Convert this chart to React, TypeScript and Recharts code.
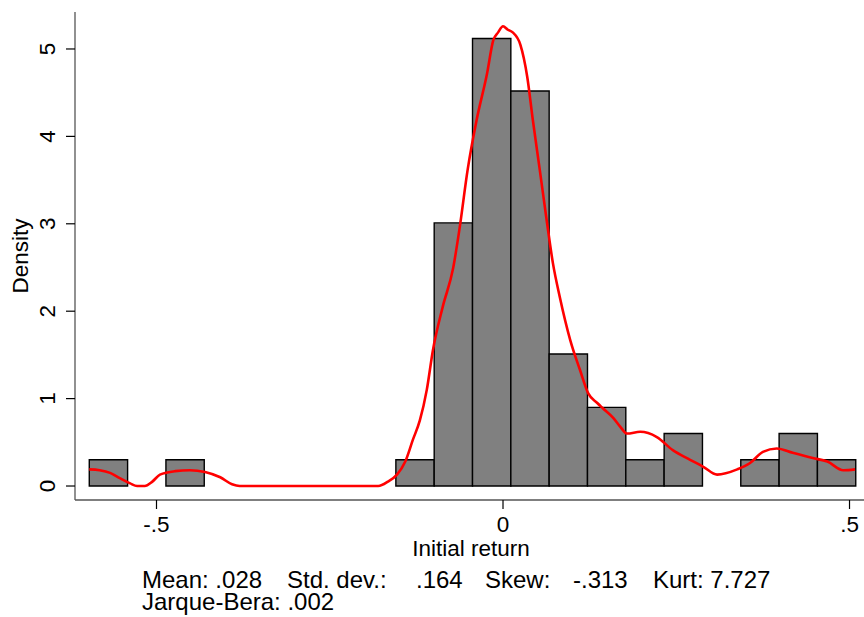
import React from 'react';
import { ComposedChart, XAxis, YAxis, Line, ReferenceArea } from 'recharts';

// Histogram (density) bins
const binStart = -0.597;
const binWidth = 0.0553;
const binDensity = [0.30, 0, 0.30, 0, 0, 0, 0, 0, 0.30, 3.01, 5.12, 4.52, 1.51, 0.90, 0.30, 0.60, 0, 0.30, 0.60, 0.30];

// Kernel density estimate
const kdeX = [
  -0.597, -0.582, -0.567, -0.553, -0.538, -0.528, -0.517, -0.506, -0.495, -0.473, -0.452, -0.430, -0.408, -0.391, -0.380,
  -0.280, -0.180, -0.166, -0.153, -0.141, -0.130, -0.120, -0.110, -0.101, -0.087, -0.072, -0.063, -0.051, -0.038, -0.023,
  -0.014, -0.007, 0.000, 0.007, 0.014, 0.025, 0.035, 0.043, 0.053, 0.063, 0.072, 0.082, 0.097, 0.111, 0.123, 0.136,
  0.144, 0.159, 0.169, 0.179, 0.198, 0.222, 0.245, 0.270, 0.289, 0.309, 0.338, 0.356, 0.375, 0.395, 0.418, 0.447,
  0.468, 0.491, 0.508,
];
const kdeY = [
  0.19, 0.18, 0.15, 0.09, 0.03, 0.0, 0.0, 0.05, 0.13, 0.17, 0.18, 0.16, 0.10, 0.02, 0.0,
  0.0, 0.0, 0.05, 0.13, 0.28, 0.53, 0.75, 1.10, 1.56, 2.05, 2.49, 2.93, 3.62, 4.19, 4.72,
  5.10, 5.19, 5.26, 5.22, 5.19, 5.05, 4.68, 4.19, 3.62, 3.04, 2.55, 2.16, 1.67, 1.33, 1.06, 0.95,
  0.89, 0.78, 0.68, 0.60, 0.62, 0.56, 0.41, 0.30, 0.22, 0.13, 0.19, 0.26, 0.39, 0.43, 0.38, 0.32,
  0.28, 0.18, 0.19,
];

const xTicks = [-0.5, 0, 0.5];
const xTickLabels = ['-.5', '0', '.5'];
const yTicks = [0, 1, 2, 3, 4, 5];

const xTitle = 'Initial return';
const yTitle = 'Density';
const statsSegments = ['Mean: .028', 'Std. dev.:', '.164', 'Skew:', '-.313', 'Kurt: 7.727'];
const statsSegmentX = [142, 287, 416, 485, 573, 653];
const statsLine2 = 'Jarque-Bera: .002';

const kdeData = kdeX.map((x, i) => ({ x, y: kdeY[i] }));

const FONT = '"Liberation Sans", Arial, Helvetica, sans-serif';
const FS = 22.5;
const NOTE_FS = 24;

const XTick = (props: any) => {
  const { x, y, payload } = props;
  const idx = xTicks.indexOf(payload.value);
  return (
    <text x={x} y={y} dy={21} textAnchor="middle" fontFamily={FONT} fontSize={FS} fill="#000">
      {idx >= 0 ? xTickLabels[idx] : String(payload.value)}
    </text>
  );
};

const YTick = (props: any) => {
  const { x, y, payload } = props;
  const bx = x - 9;
  return (
    <text
      x={bx}
      y={y}
      transform={`rotate(-90, ${bx}, ${y})`}
      textAnchor="middle"
      fontFamily={FONT}
      fontSize={FS}
      fill="#000"
    >
      {String(payload.value)}
    </text>
  );
};

export default function App() {
  return (
    <div style={{ position: 'absolute', left: 0, top: 0, width: 864, height: 617, background: '#fff' }}>
      <ComposedChart
        width={864}
        height={617}
        data={kdeData}
        margin={{ top: 12, right: 0, bottom: 0, left: 0 }}
      >
        <XAxis
          type="number"
          dataKey="x"
          domain={[-0.6176, 0.5209]}
          allowDataOverflow
          ticks={xTicks}
          tick={<XTick />}
          tickSize={9}
          height={117}
          axisLine={{ stroke: '#555', strokeWidth: 1.3 }}
          tickLine={{ stroke: '#000', strokeWidth: 1.2 }}
          interval={0}
        />
        <YAxis
          type="number"
          domain={[-0.16, 5.423]}
          allowDataOverflow
          ticks={yTicks}
          tick={<YTick />}
          tickSize={9}
          width={75}
          axisLine={{ stroke: '#555', strokeWidth: 1.3 }}
          tickLine={{ stroke: '#000', strokeWidth: 1.2 }}
          interval={0}
        />
        {binDensity.map((d, i) =>
          d > 0 ? (
            <ReferenceArea
              key={i}
              x1={binStart + i * binWidth}
              x2={binStart + (i + 1) * binWidth}
              y1={0}
              y2={d}
              fill="#808080"
              fillOpacity={1}
              stroke="#000"
              strokeWidth={1.4}
              ifOverflow="visible"
            />
          ) : null
        )}
        <Line
          type="monotone"
          dataKey="y"
          stroke="#ff0000"
          strokeWidth={2.6}
          dot={false}
          activeDot={false}
          isAnimationActive={false}
        />
        <text x={471} y={556} textAnchor="middle" fontFamily={FONT} fontSize={FS} fill="#000">
          {xTitle}
        </text>
        <text
          x={28}
          y={256}
          transform="rotate(-90, 28, 256)"
          textAnchor="middle"
          fontFamily={FONT}
          fontSize={FS}
          fill="#000"
        >
          {yTitle}
        </text>
        {statsSegments.map((s, i) => (
          <text key={i} x={statsSegmentX[i]} y={588} fontFamily={FONT} fontSize={NOTE_FS} fill="#000">
            {s}
          </text>
        ))}
        <text x={142} y={610} fontFamily={FONT} fontSize={NOTE_FS} fill="#000">
          {statsLine2}
        </text>
      </ComposedChart>
    </div>
  );
}
